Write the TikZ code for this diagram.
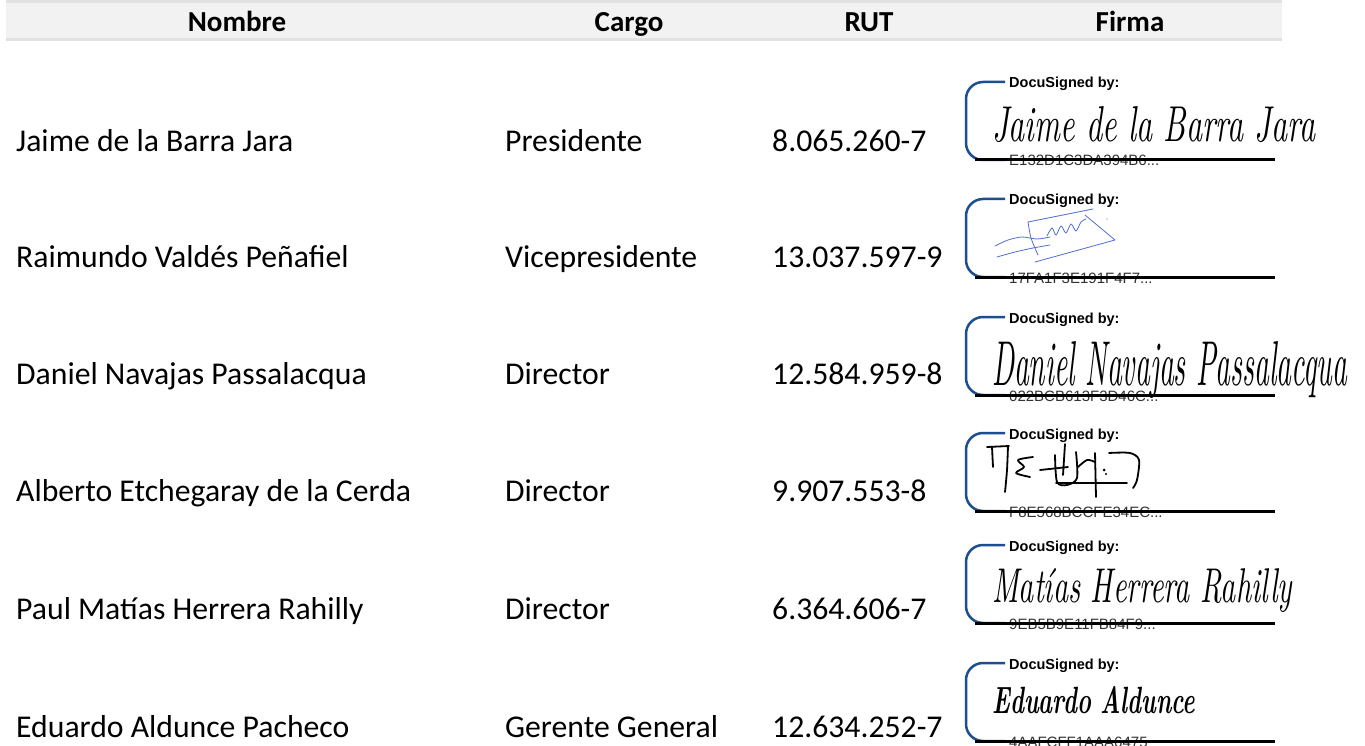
\documentclass[tikz,border=0pt]{standalone}
\usepackage{fontspec}
\usepackage{graphicx}
\newfontfamily\calib{Carlito}
\newfontfamily\arialf{Liberation Sans}
\newcommand{\tdots}{...}
\definecolor{docblue}{RGB}{28,78,145}
\definecolor{hdrlight}{RGB}{242,242,242}
\definecolor{hdrline}{RGB}{226,226,226}
\definecolor{sigblue}{RGB}{80,110,210}
\begin{document}
\begin{tikzpicture}[x=1pt,y=-1pt,
  hdr/.style={font=\calib\bfseries\fontsize{29}{34}\selectfont, anchor=base, inner sep=0pt},
  cell/.style={font=\calib\fontsize{31.7}{38}\selectfont, anchor=base west, inner sep=0pt},
  dsby/.style={font=\arialf\bfseries\fontsize{14.5}{17}\selectfont, anchor=base west, inner sep=0pt},
  hexid/.style={font=\arialf\fontsize{15}{18}\selectfont, anchor=base west, inner sep=0pt, text=black!80},
  sig/.style={anchor=base west, inner sep=0pt},
  bracket/.style={draw=docblue, line width=2.5pt, rounded corners=17pt},
  sigline/.style={draw=black, line width=3pt},
  scribblue/.style={draw=sigblue, line width=0.8pt, line cap=round, line join=round},
  scribblack/.style={draw=black, line width=1.8pt, line cap=round, line join=round},
]
\useasboundingbox (0,0) rectangle (1365,746);
\fill[white] (0,0) rectangle (1365,746);
% header band
\fill[hdrline] (6,0) rectangle (1282,41);
\fill[hdrlight] (6,3) rectangle (1282,38);
\node[hdr] (hNombre) at (237,32) {Nombre};
\node[hdr] (hCargo) at (629,32) {Cargo};
\node[hdr] (hRut) at (869,32) {RUT};
\node[hdr] (hFirma) at (1130,32) {Firma};
% rows
\foreach \i/\bl/\bt/\nm/\cg/\rt/\hx in {
  1/152/160/Jaime de la Barra Jara/Presidente/8.065.260-7/E132D1C3DA394B6\tdots,
  2/267/277/Raimundo Valdés Peñafiel/Vicepresidente/13.037.597-9/17FA1F3E191F4F7\tdots,
  3/384/395/Daniel Navajas Passalacqua/Director/12.584.959-8/022BCB613F3D46C\tdots,
  4/501/511/Alberto Etchegaray de la Cerda/Director/9.907.553-8/F8E568BCCFE34EC\tdots,
  5/619/623/Paul Matías Herrera Rahilly/Director/6.364.606-7/9EB5B9E11FB84F9\tdots,
  6/737/741/Eduardo Aldunce Pacheco/Gerente General/12.634.252-7/4AAFCFF1AAA6475}{
  \node[cell] (name\i) at (16,\bl) {\nm};
  \node[cell] (cargo\i) at (505,\bl) {\cg};
  \node[cell] (rut\i) at (772,\bl) {\rt};
  \draw[bracket] (1005,\bt-78) -- (966,\bt-78) -- (966,\bt) -- (1005,\bt);
  \node[dsby] (ds\i) at (1009,\bt-72) {DocuSigned by:};
  \node[hexid] (hex\i) at (1009,\bt+6) {\hx};
  \draw[sigline] (975,\bt) -- (1275,\bt);
}
% handwritten signatures
\node[sig] (sig1) at (992,142) {\resizebox{323pt}{35pt}{\itshape Jaime de la Barra Jara}};
\node[sig] (sig3) at (992,385) {\resizebox{355pt}{44pt}{\itshape Daniel Navajas Passalacqua}};
\node[sig] (sig5) at (992,602) {\resizebox{300pt}{34pt}{\itshape Matías Herrera Rahilly}};
\node[sig] (sig6) at (992,713) {\resizebox{203pt}{27pt}{\bfseries\itshape Eduardo Aldunce}};
% row 2 scribble (blue)
\draw[scribblue] plot[smooth] coordinates {(995,246) (1008,240) (1022,237) (1037,239) (1050,237)};
\draw[scribblue] (1028,222) -- (1093,209);
\draw[scribblue] plot[smooth] coordinates {(1028,222) (1031,238) (1038,255)};
\draw[scribblue] (1035,262) -- (1115,240) -- (1085,215);
\draw[scribblue] plot[smooth] coordinates {(997,257) (1015,252) (1033,248) (1050,245)};
\draw[scribblue] plot[smooth] coordinates {(1047,236) (1052,228) (1056,235) (1061,226) (1066,233) (1071,224) (1076,231) (1081,222) (1086,219)};
\fill[sigblue] (1107,219) circle (0.7pt);
% row 4 scribble (black)
\draw[scribblack] (992,447) -- (993,467);
\draw[scribblack] (987,447) -- (1009,446);
\draw[scribblack] plot[smooth] coordinates {(1008,446) (1007,470) (1005,492)};
\draw[scribblack] plot[smooth] coordinates {(1033,457) (1018,460) (1024,467) (1016,473) (1030,477)};
\draw[scribblack] (1040,470) -- (1068,467);
\draw[scribblack] (1065,444) -- (1063,475);
\draw[scribblack] plot[smooth] coordinates {(1055,455) (1057,482) (1067,485) (1077,478) (1076,452)};
\draw[scribblack] (1095,453) -- (1096,497);
\draw[scribblack] plot[smooth] coordinates {(1078,467) (1087,460) (1095,462)};
\fill (1104,470) circle (1.5pt);
\fill (1106,474) circle (1.2pt);
\draw[scribblack] plot[smooth] coordinates {(1109,453) (1130,453) (1139,460) (1137,480) (1133,488)};
\draw[scribblack] (1056,483) -- (1127,483);
\end{tikzpicture}
\end{document}
